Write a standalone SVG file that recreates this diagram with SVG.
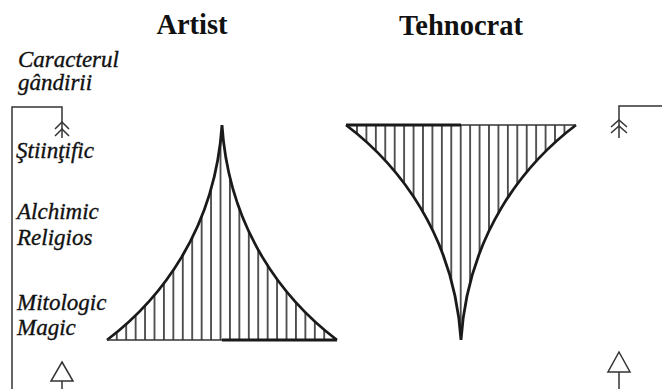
<svg xmlns="http://www.w3.org/2000/svg" width="662" height="389" viewBox="0 0 662 389">
<style>
.title{font-family:"Liberation Serif","Times New Roman",serif;font-weight:bold;font-size:28.5px;fill:#111;text-anchor:middle}
.lab{font-family:"Liberation Serif","Times New Roman",serif;font-style:italic;font-size:23px;fill:#111;stroke:#111;stroke-width:0.35}
.curve{fill:none;stroke:#1a1a1a;stroke-width:2.8;stroke-linejoin:miter}
.conn{fill:none;stroke:#333;stroke-width:1.5}
.tri{fill:#fff;stroke:#333;stroke-width:1.5;stroke-linejoin:miter}
.hl{stroke:#000;stroke-width:1.3}
</style>
<defs>
<pattern id="hA" patternUnits="userSpaceOnUse" x="215.8" y="0" width="9.43" height="20">
<line class="hl" x1="4.7" y1="0" x2="4.7" y2="20"/>
</pattern>
<pattern id="hT" patternUnits="userSpaceOnUse" x="456" y="0" width="9.43" height="20">
<line class="hl" x1="4.7" y1="0" x2="4.7" y2="20"/>
</pattern>
</defs>

<g id="title-artist"><text class="title" x="192" y="34">Artist</text></g>
<g id="title-tehnocrat"><text class="title" x="461" y="35">Tehnocrat</text></g>

<g id="labels">
<text class="lab" x="18" y="67">Caracterul</text>
<text class="lab" x="18" y="90">gândirii</text>
<text class="lab" x="16" y="158">Ştiinţific</text>
<text class="lab" x="17" y="219">Alchimic</text>
<text class="lab" x="17" y="245">Religios</text>
<text class="lab" x="17" y="310">Mitologic</text>
<text class="lab" x="17" y="335">Magic</text>
</g>

<g id="artist">
<path d="M107,340 C160,300 215,230 222,125 C229,230 284,300 337,340 Z" fill="url(#hA)" stroke="none"/>
<path class="curve" d="M107,340 C160,300 215,230 222,125 C229,230 284,300 337,340"/>
<line x1="107" y1="340" x2="222" y2="340" stroke="#333" stroke-width="1.6"/>
<line x1="222" y1="340" x2="337" y2="340" stroke="#1a1a1a" stroke-width="3"/>
</g>

<g id="tehnocrat">
<path d="M346,125 C399,165 454,235 461,340 C468,235 523,165 576,125 Z" fill="url(#hT)" stroke="none"/>
<path class="curve" d="M346,125 C399,165 454,235 461,340 C468,235 523,165 576,125"/>
<line x1="346" y1="125" x2="461" y2="125" stroke="#1a1a1a" stroke-width="3"/>
<line x1="461" y1="125" x2="576" y2="125" stroke="#333" stroke-width="1.6"/>
</g>

<g id="connectors">
<path class="conn" d="M12,389 V107 H62 V138"/>
<path class="conn" d="M55,129 L62,122 L69,129 M55,136 L62,129 L69,136"/>
<path class="tri" d="M62,362 L73,381 L51,381 Z"/>
<path class="conn" d="M62,381 V389"/>
<path class="conn" d="M662,106 H619 V138"/>
<path class="conn" d="M611,127 L619,120 L627,127 M611,133 L619,126 L627,133"/>
<path class="tri" d="M619,352 L630,372 L608,372 Z"/>
<path class="conn" d="M619,372 V389"/>
</g>
</svg>
